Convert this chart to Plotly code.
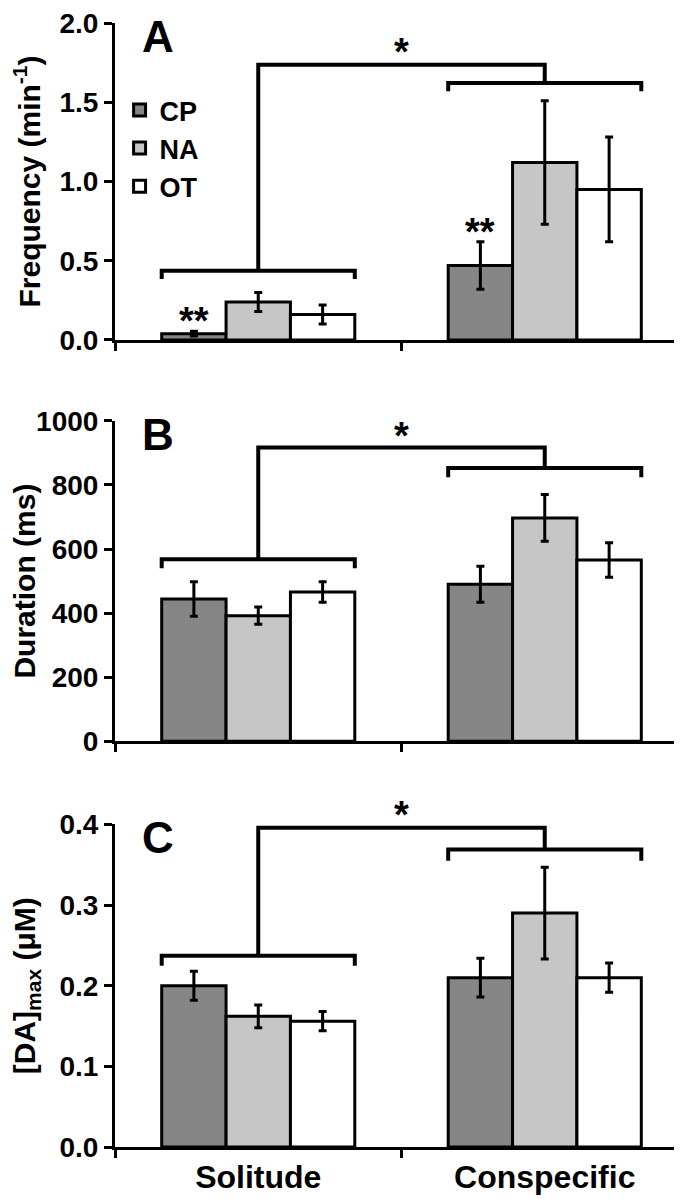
import plotly.graph_objects as go
from plotly.subplots import make_subplots

# ---------------- data ----------------
groups = ["Solitude", "Conspecific"]
series = ["CP", "NA", "OT"]

freq_cp = [0.04, 0.47]
freq_cp_err = [0.015, 0.15]
freq_na = [0.24, 1.12]
freq_na_err = [0.06, 0.39]
freq_ot = [0.16, 0.95]
freq_ot_err = [0.06, 0.33]

dur_cp = [444, 490]
dur_cp_err = [54, 56]
dur_na = [392, 697]
dur_na_err = [27, 73]
dur_ot = [466, 566]
dur_ot_err = [32, 54]

da_cp = [0.200, 0.210]
da_cp_err = [0.018, 0.024]
da_na = [0.162, 0.290]
da_na_err = [0.014, 0.057]
da_ot = [0.156, 0.210]
da_ot_err = [0.012, 0.018]

y_titles = ["Frequency (min<sup>-1</sup>)", "Duration (ms)", "[DA]<sub>max</sub> (μM)"]
panel_letters = ["A", "B", "C"]
y_ranges = [[0, 2.0], [0, 1000], [0, 0.4]]
y_dticks = [0.5, 200, 0.1]
y_formats = [".1f", "d", ".1f"]

# ---------------- style ----------------
colors = {"CP": "#868686", "NA": "#c6c6c6", "OT": "#ffffff"}
FONT = "Liberation Sans, Arial, Helvetica, sans-serif"

panels = [
    {"CP": (freq_cp, freq_cp_err), "NA": (freq_na, freq_na_err), "OT": (freq_ot, freq_ot_err)},
    {"CP": (dur_cp, dur_cp_err), "NA": (dur_na, dur_na_err), "OT": (dur_ot, dur_ot_err)},
    {"CP": (da_cp, da_cp_err), "NA": (da_na, da_na_err), "OT": (da_ot, da_ot_err)},
]

# bracket geometry per panel (y levels in data units): left bar, left end, top, right bar, right end
brackets = [
    (0.437, 0.385, 1.736, 1.622, 1.570),
    (568, 540, 917, 853, 824),
    (0.2372, 0.2247, 0.396, 0.369, 0.355),
]
# star position as a fraction of each panel's height
star_frac = [0.935, 0.977, 1.053]
title_standoff = [35, 12, 35]

fig = make_subplots(rows=3, cols=1, vertical_spacing=0.0)
domains = [[0.718, 1.0], [0.361, 0.646], [0.0, 0.287]]

for p, data in enumerate(panels):
    row = p + 1
    for k, s in enumerate(series):
        vals, errs = data[s]
        fig.add_trace(
            go.Bar(
                x=groups, y=vals, name=s,
                marker=dict(color=colors[s], line=dict(color="black", width=3)),
                error_y=dict(type="data", array=errs, visible=True, color="black", thickness=3, width=4),
                showlegend=(p == 0), legendgroup=s,
            ),
            row=row, col=1,
        )

axis_font = dict(family=FONT, size=28, color="black", weight="bold")
for p in range(3):
    xa = "xaxis" if p == 0 else f"xaxis{p+1}"
    ya = "yaxis" if p == 0 else f"yaxis{p+1}"
    fig.layout[xa].update(
        type="category", range=[-0.5, 1.5], showline=True, linecolor="black", linewidth=3,
        ticks="outside", tickson="boundaries", ticklen=8, tickwidth=3, tickcolor="black",
        showticklabels=(p == 2), tickfont=dict(family=FONT, size=32, color="black", weight="bold"),
        ticklabelstandoff=0, automargin=False, ticklabeloverflow="allow",
        showgrid=False, zeroline=False,
    )
    fig.layout[ya].update(
        domain=domains[p], range=y_ranges[p], dtick=y_dticks[p], tick0=0, tickformat=y_formats[p],
        showline=True, linecolor="black", linewidth=3,
        ticks="outside", ticklen=8, tickwidth=3, tickcolor="black",
        tickfont=axis_font, showgrid=False, zeroline=False, automargin=False,
        ticklabeloverflow="allow",
        title=dict(text=y_titles[p], font=dict(family=FONT, size=30, color="black", weight="bold"),
                   standoff=title_standoff[p]),
    )
    xref = "x" if p == 0 else f"x{p+1}"
    yref = "y" if p == 0 else f"y{p+1}"
    lh, le, top, rh, re_ = brackets[p]
    w = 0.337
    for path in [
        f"M {-w},{le} L {-w},{lh} L {w},{lh} L {w},{le}",
        f"M 0,{lh} L 0,{top} L 1,{top} L 1,{rh}",
        f"M {1-w},{re_} L {1-w},{rh} L {1+w},{rh} L {1+w},{re_}",
    ]:
        fig.add_shape(type="path", path=path, xref=xref, yref=yref,
                      line=dict(color="black", width=4))
    fig.add_annotation(x=0.5, y=star_frac[p], xref=f"{xref} domain", yref=f"{yref} domain",
                       text="*", showarrow=False,
                       font=dict(family=FONT, size=38, color="black", weight="bold"),
                       yanchor="middle", yshift=-8)
    fig.add_annotation(x=0.075, y=0.958, xref=f"{xref} domain", yref=f"{yref} domain",
                       text=panel_letters[p], showarrow=False,
                       font=dict(family=FONT, size=44, color="black", weight="bold"),
                       xanchor="center", yanchor="middle")

# significance markers over CP bars in panel A
for gi, g in enumerate(groups):
    fig.add_annotation(x=gi - 0.225, y=freq_cp[gi] + freq_cp_err[gi], xref="x", yref="y",
                       text="**", showarrow=False, yanchor="middle", yshift=10,
                       font=dict(family=FONT, size=38, color="black", weight="bold"))

fig.update_layout(
    width=682, height=1199,
    margin=dict(l=107, r=2, t=15, b=60, autoexpand=False),
    paper_bgcolor="white", plot_bgcolor="white",
    barmode="group", bargap=0.326, bargroupgap=0.0,
    showlegend=True,
    legend=dict(x=0.008, y=0.944, xanchor="left", yanchor="top",
                font=dict(family=FONT, size=27, color="black", weight="bold"),
                bgcolor="rgba(0,0,0,0)", tracegroupgap=3, traceorder="normal"),
    font=dict(family=FONT, color="black"),
)

fig.write_html("out.html")
